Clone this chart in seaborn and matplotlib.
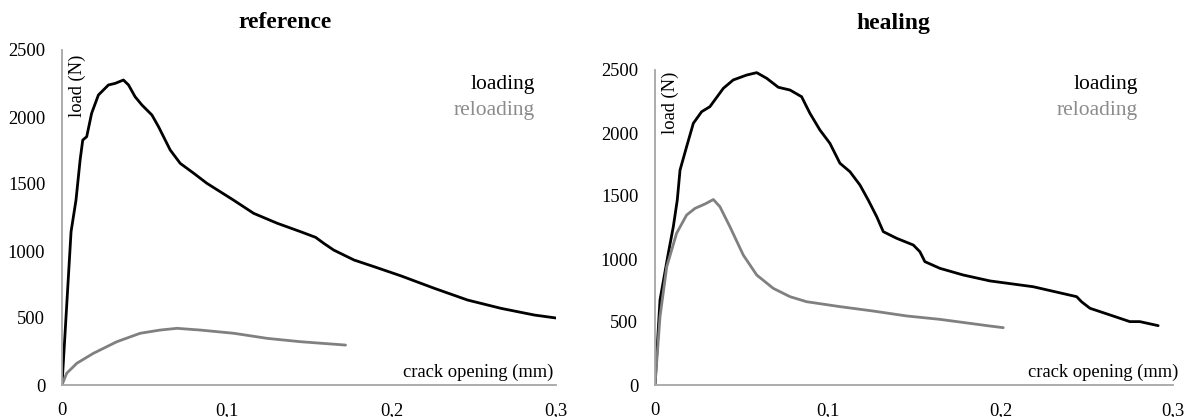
import matplotlib
matplotlib.use("Agg")
import matplotlib.pyplot as plt
import seaborn as sns
import pandas as pd

# ---- data ----
ref_load_x = [0.0, 0.0055, 0.0085, 0.011, 0.0126, 0.015, 0.018, 0.0221, 0.0282, 0.0323, 0.0373,
              0.0404, 0.0444, 0.0485, 0.0546, 0.0586, 0.0657, 0.0718, 0.080, 0.088, 0.104,
              0.1164, 0.1307, 0.1449, 0.154, 0.159, 0.165, 0.1773, 0.1895, 0.2057, 0.226,
              0.2463, 0.2666, 0.2869, 0.300]
ref_load_y = [0, 1144, 1380, 1679, 1828, 1853, 2028, 2164, 2239, 2251, 2276,
              2239, 2151, 2090, 2015, 1928, 1754, 1654, 1580, 1505, 1381,
              1281, 1207, 1144, 1102, 1057, 1007, 933, 883, 815, 722,
              634, 572, 522, 500]

ref_reload_x = [0.0, 0.0028, 0.009, 0.019, 0.0333, 0.0475, 0.0596, 0.0698, 0.084, 0.1043,
                0.1246, 0.1449, 0.1722]
ref_reload_y = [0, 87, 162, 236, 323, 386, 410, 423, 410, 386, 348, 323, 298]

heal_load_x = [0.0, 0.0029, 0.0077, 0.0106, 0.0129, 0.0145, 0.0183, 0.0222, 0.027, 0.0318,
               0.0396, 0.0453, 0.0531, 0.0589, 0.0647, 0.0714, 0.0782, 0.0849, 0.0897,
               0.0955, 0.1013, 0.1071, 0.1129, 0.1187, 0.1235, 0.1284, 0.1322, 0.140,
               0.1496, 0.1534, 0.1563, 0.165, 0.1785, 0.194, 0.219, 0.2442, 0.247,
               0.2519, 0.2635, 0.275, 0.2808, 0.2914]
heal_load_y = [0, 675, 1045, 1256, 1468, 1706, 1891, 2077, 2169, 2209,
               2355, 2421, 2460, 2479, 2434, 2363, 2341, 2288, 2157,
               2024, 1918, 1760, 1693, 1587, 1468, 1336, 1217, 1164,
               1111, 1058, 979, 926, 873, 826, 780, 701, 661,
               609, 556, 503, 503, 471]

heal_reload_x = [0.0, 0.0029, 0.0068, 0.0125, 0.0183, 0.0232, 0.029, 0.0338, 0.0376, 0.0434,
                 0.0511, 0.0589, 0.0685, 0.0782, 0.0878, 0.1071, 0.1264, 0.1457, 0.165,
                 0.194, 0.2017]
heal_reload_y = [0, 542, 939, 1204, 1349, 1402, 1437, 1472, 1415, 1256,
                 1032, 873, 767, 701, 661, 622, 587, 548, 521,
                 468, 455]

x_ticks = [0, 0.1, 0.2, 0.3]
x_tick_labels = ["0", "0,1", "0,2", "0,3"]
y_ticks = [0, 500, 1000, 1500, 2000, 2500]
titles = ["reference", "healing"]
series_names = ["loading", "reloading"]

# ---- style ----
sns.set_theme(style="white")
plt.rcParams['font.family'] = ['Liberation Serif', 'DejaVu Serif']
plt.rcParams['text.color'] = 'black'
plt.rcParams['lines.solid_joinstyle'] = 'round'
plt.rcParams['lines.solid_capstyle'] = 'round'

W, H = 1192, 417
fig = plt.figure(figsize=(W / 100, H / 100), dpi=100)

BLACK = "#000000"
GRAY = "#808080"
AXIS = "#a6a6a6"


def fx(px):
    return px / W


def fy(py):
    return 1 - py / H


def make_axes(x0, x1, ytop, ybot=385):
    return fig.add_axes([fx(x0), fy(ybot), (x1 - x0) / W, (ybot - ytop) / H])


ax1 = make_axes(62, 556, 50)
ax2 = make_axes(655, 1173, 70)

datasets = [
    (ax1, ref_load_x, ref_load_y, ref_reload_x, ref_reload_y),
    (ax2, heal_load_x, heal_load_y, heal_reload_x, heal_reload_y),
]

for ax, lx, ly, rx, ry in datasets:
    df = pd.concat([
        pd.DataFrame({"x": lx, "y": ly, "series": series_names[0]}),
        pd.DataFrame({"x": rx, "y": ry, "series": series_names[1]}),
    ])
    sns.lineplot(data=df, x="x", y="y", hue="series",
                 palette={series_names[0]: BLACK, series_names[1]: GRAY},
                 linewidth=2.0, legend=False, ax=ax, estimator=None)
    ax.set_xlim(0, 0.3)
    ax.set_ylim(0, 2500)
    ax.set_xticks(x_ticks)
    ax.set_xticklabels(x_tick_labels)
    ax.set_yticks(y_ticks)
    ax.set_yticklabels([str(v) for v in y_ticks])
    ax.tick_params(axis='both', length=0, labelsize=13.3, colors="#000000")
    ax.tick_params(axis='x', pad=12)
    ax.tick_params(axis='y', pad=12)
    ax.set_xlabel("")
    ax.set_ylabel("")
    ax.patch.set_alpha(0)
    for s in ["top", "right"]:
        ax.spines[s].set_visible(False)
    for s in ["left", "bottom"]:
        ax.spines[s].set_color(AXIS)
        ax.spines[s].set_linewidth(1.3)

# titles
fig.text(fx(285), fy(23), titles[0], ha='center', va='center', fontsize=17, fontweight='bold', color=BLACK)
fig.text(fx(893), fy(23), titles[1], ha='center', va='center', fontsize=17, fontweight='bold', color=BLACK)

# axis labels
fig.text(fx(77), fy(55), "load (N)", rotation=90, ha='center', va='top', fontsize=13.3, color=BLACK)
fig.text(fx(670), fy(72), "load (N)", rotation=90, ha='center', va='top', fontsize=13.3, color=BLACK)
fig.text(fx(553), fy(372), "crack opening (mm)", ha='right', va='center', fontsize=13.3, color=BLACK)
fig.text(fx(1178), fy(372), "crack opening (mm)", ha='right', va='center', fontsize=13.3, color=BLACK)

# legend texts
for xr in (535, 1138):
    fig.text(fx(xr), fy(85), series_names[0], ha='right', va='center', fontsize=15.5, color=BLACK)
    fig.text(fx(xr), fy(110), series_names[1], ha='right', va='center', fontsize=15.5, color="#8c8c8c")

fig.savefig("out.png", dpi=100)
